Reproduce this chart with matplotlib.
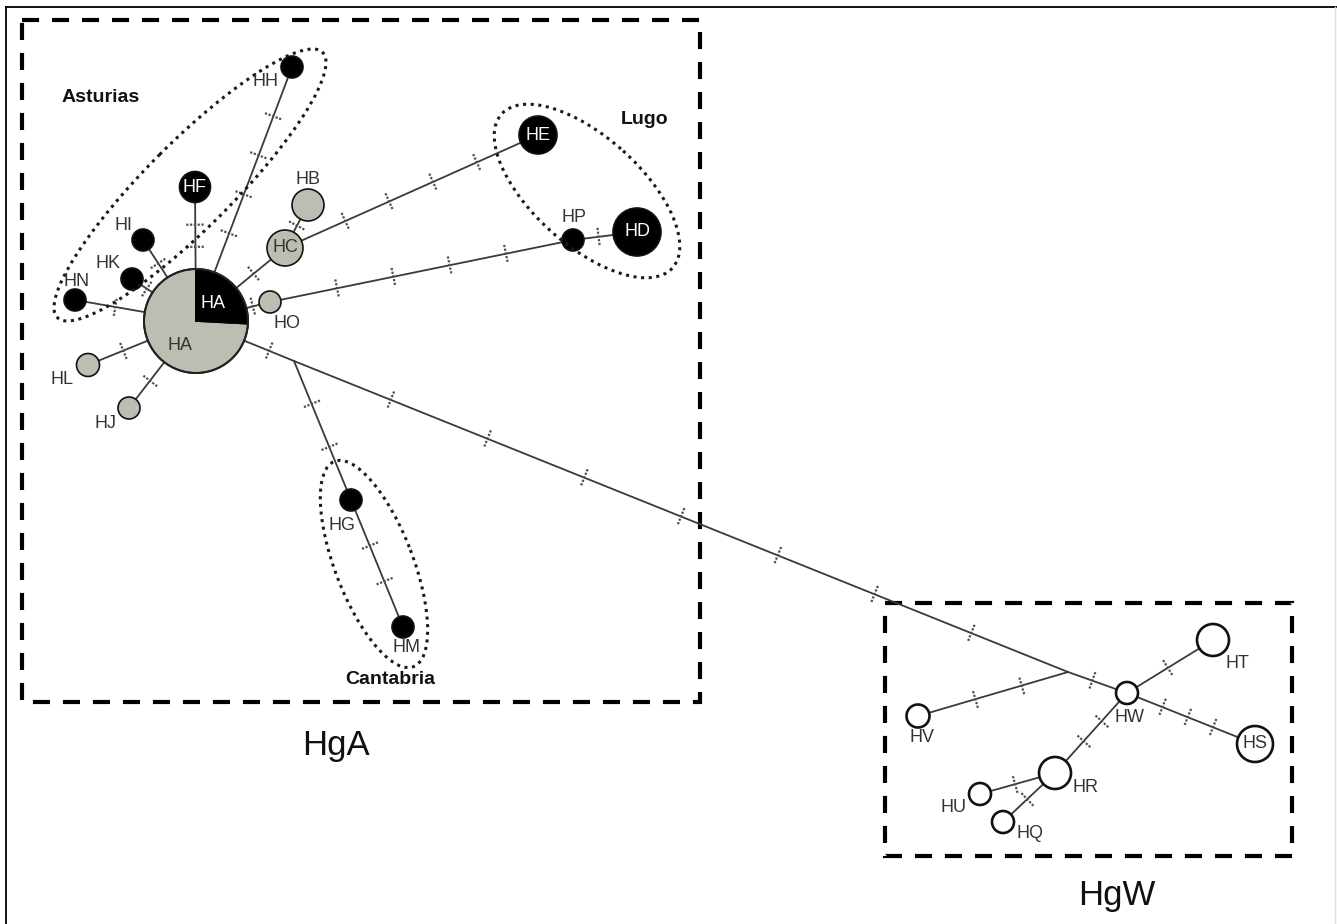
import numpy as np
import matplotlib
matplotlib.use('Agg')
import matplotlib.pyplot as plt
from matplotlib.patches import Circle, Wedge, Ellipse, Rectangle

plt.rcParams['font.family'] = ['Liberation Sans', 'DejaVu Sans']

# haplotypes (pixel layout of the network)
node_names = ['HA', 'HF', 'HH', 'HI', 'HK', 'HN', 'HL', 'HJ', 'HB', 'HC', 'HO',
              'HE', 'HP', 'HD', 'HG', 'HM',
              'HW', 'HT', 'HS', 'HV', 'HR', 'HU', 'HQ']
node_x = [196, 195, 292, 143, 132, 75, 88, 129, 308, 285, 270,
          538, 573, 637, 351, 403,
          1127, 1213, 1255, 918, 1055, 980, 1003]
node_y = [321, 187, 67, 240, 279, 300, 365, 408, 205, 248, 302,
          135, 240, 232, 500, 627,
          693, 640, 744, 716, 773, 794, 822]
node_r = [52, 15.5, 11, 11, 11, 11, 11.5, 11, 16, 18, 11,
          19, 11, 24, 11, 11,
          11, 16, 18, 11.5, 16, 11, 11]
node_kind = ['pie', 'black', 'black', 'black', 'black', 'black', 'gray', 'gray', 'gray', 'gray', 'gray',
             'black', 'black', 'black', 'black', 'black',
             'white', 'white', 'white', 'white', 'white', 'white', 'white']

# share of HA that is black (Asturias) vs gray
ha_black_from, ha_black_to = -90, 3

# median vectors
junction_names = ['J1', 'J2']
junction_x = [294, 1068]
junction_y = [361, 672]

# links and number of mutation steps
edges = [('HA', 'HH', 4), ('HA', 'HF', 2), ('HA', 'HI', 1), ('HA', 'HK', 1),
         ('HA', 'HN', 1), ('HA', 'HL', 1), ('HA', 'HJ', 1), ('HA', 'HC', 1),
         ('HC', 'HB', 1), ('HC', 'HE', 4), ('HA', 'HO', 1), ('HO', 'HP', 4),
         ('HP', 'HD', 1), ('HA', 'J1', 1), ('J1', 'HG', 2), ('HG', 'HM', 2),
         ('J1', 'J2', 7), ('J2', 'HW', 1), ('J2', 'HV', 2), ('HW', 'HT', 1),
         ('HW', 'HS', 3), ('HW', 'HR', 2), ('HR', 'HU', 1), ('HR', 'HQ', 1)]

# label text, position and colour
label_text = ['HA', 'HA', 'HF', 'HH', 'HI', 'HK', 'HN', 'HL', 'HJ', 'HB', 'HC', 'HO',
              'HE', 'HP', 'HD', 'HG', 'HM',
              'HW', 'HT', 'HS', 'HV', 'HR', 'HU', 'HQ']
label_x = [213, 180, 195, 265, 123, 108, 77, 62, 105, 308, 285, 287,
           538, 574, 637, 342, 407,
           1130, 1237, 1255, 922, 1086, 953, 1030]
label_y = [303, 345, 187, 82, 225, 263, 281, 380, 423, 180, 248, 323,
           135, 218, 232, 525, 647,
           718, 664, 744, 737, 787, 808, 833]
label_color = ['white', '#333333', 'white', '#333333', '#333333', '#333333', '#333333', '#333333',
               '#333333', '#333333', '#333333', '#333333',
               'white', '#333333', 'white', '#333333', '#333333',
               '#333333', '#333333', '#333333', '#333333', '#333333', '#333333', '#333333']

# regional groups (dotted ellipses)
group_names = ['Asturias', 'Lugo', 'Cantabria']
group_cx = [190, 587, 374]
group_cy = [185, 191, 564]
group_w = [375, 230, 220]
group_h = [86, 108, 78]
group_angle = [-45, 42, 69]
group_label_x = [101, 645, 390]
group_label_y = [97, 120, 679]

# haplogroup boxes
box_names = ['HgA', 'HgW']
box_x0 = [22, 885]
box_y0 = [20, 603]
box_x1 = [700, 1292]
box_y1 = [702, 856]
box_label_x = [336, 1117]
box_label_y = [745, 895]

GRAY = '#bdbdb3'
LINE = '#3a3a3a'
fills = {'black': 'black', 'gray': GRAY, 'white': 'white'}

fig = plt.figure(figsize=(13.37, 9.24), dpi=100)
ax = fig.add_axes([0, 0, 1, 1])
ax.set_xlim(0, 1337)
ax.set_ylim(924, 0)
ax.axis('off')

pos = {}
rad = {}
for n, x, y, r in zip(node_names, node_x, node_y, node_r):
    pos[n] = np.array([x, y], dtype=float)
    rad[n] = r
for n, x, y in zip(junction_names, junction_x, junction_y):
    pos[n] = np.array([x, y], dtype=float)
    rad[n] = 0

# outer frame
ax.plot([6, 6], [924, 7], color='black', lw=1.3, zorder=1)
ax.plot([6, 1337], [7, 7], color='black', lw=1.3, zorder=1)
ax.plot([1335, 1335], [7, 924], color='#e0e0e0', lw=1.0, zorder=1)

# edges with mutation ticks
for a, b, n_mut in edges:
    p0, p1 = pos[a], pos[b]
    ax.plot([p0[0], p1[0]], [p0[1], p1[1]], color=LINE, lw=1.3, zorder=2)
    d = p1 - p0
    L = np.hypot(d[0], d[1])
    u = d / L
    perp = np.array([-u[1], u[0]])
    s0 = rad[a]
    s1 = L - rad[b]
    for k in range(n_mut):
        s = s0 + (s1 - s0) * (k + 1) / (n_mut + 1)
        c = p0 + u * s
        t0 = c - perp * 9
        t1 = c + perp * 9
        ax.plot([t0[0], t1[0]], [t0[1], t1[1]], color='#505050', lw=1.6,
                linestyle=(0, (1, 0.7)), zorder=2)

# haplotype circles
for n, kind in zip(node_names, node_kind):
    x, y = pos[n]
    r = rad[n]
    if kind == 'pie':
        ax.add_patch(Wedge((x, y), r, ha_black_to, ha_black_from + 360, facecolor=GRAY,
                           edgecolor='black', lw=1.2, zorder=3))
        ax.add_patch(Wedge((x, y), r, ha_black_from, ha_black_to, facecolor='black',
                           edgecolor='black', lw=1.2, zorder=3))
        ax.add_patch(Circle((x, y), r, facecolor='none', edgecolor='#222222', lw=1.5, zorder=4))
    else:
        lw = 1.9 if kind == 'white' else 1.2
        ax.add_patch(Circle((x, y), r, facecolor=fills[kind], edgecolor='#111111', lw=lw, zorder=3))

for t, x, y, c in zip(label_text, label_x, label_y, label_color):
    ax.text(x, y, t, color=c, fontsize=13, ha='center', va='center', zorder=5)

# dotted regional ellipses
for name, cx, cy, w, h, ang, lx, ly in zip(group_names, group_cx, group_cy, group_w, group_h,
                                           group_angle, group_label_x, group_label_y):
    ax.add_patch(Ellipse((cx, cy), w, h, angle=ang, facecolor='none', edgecolor='#1a1a1a',
                         lw=2.2, linestyle=(0, (1, 1.5)), zorder=4))
    ax.text(lx, ly, name, fontsize=14, fontweight='bold', color='#111111',
            ha='center', va='center', zorder=5)

# dashed haplogroup boxes
for name, x0, y0, x1, y1, lx, ly in zip(box_names, box_x0, box_y0, box_x1, box_y1,
                                        box_label_x, box_label_y):
    ax.add_patch(Rectangle((x0, y0), x1 - x0, y1 - y0, facecolor='none', edgecolor='black',
                           lw=3, linestyle=(0, (4.1, 3.1)), zorder=1))
    ax.text(lx, ly, name, fontsize=25, color='#111111', ha='center', va='center', zorder=5)

fig.savefig('out.png', dpi=100)
